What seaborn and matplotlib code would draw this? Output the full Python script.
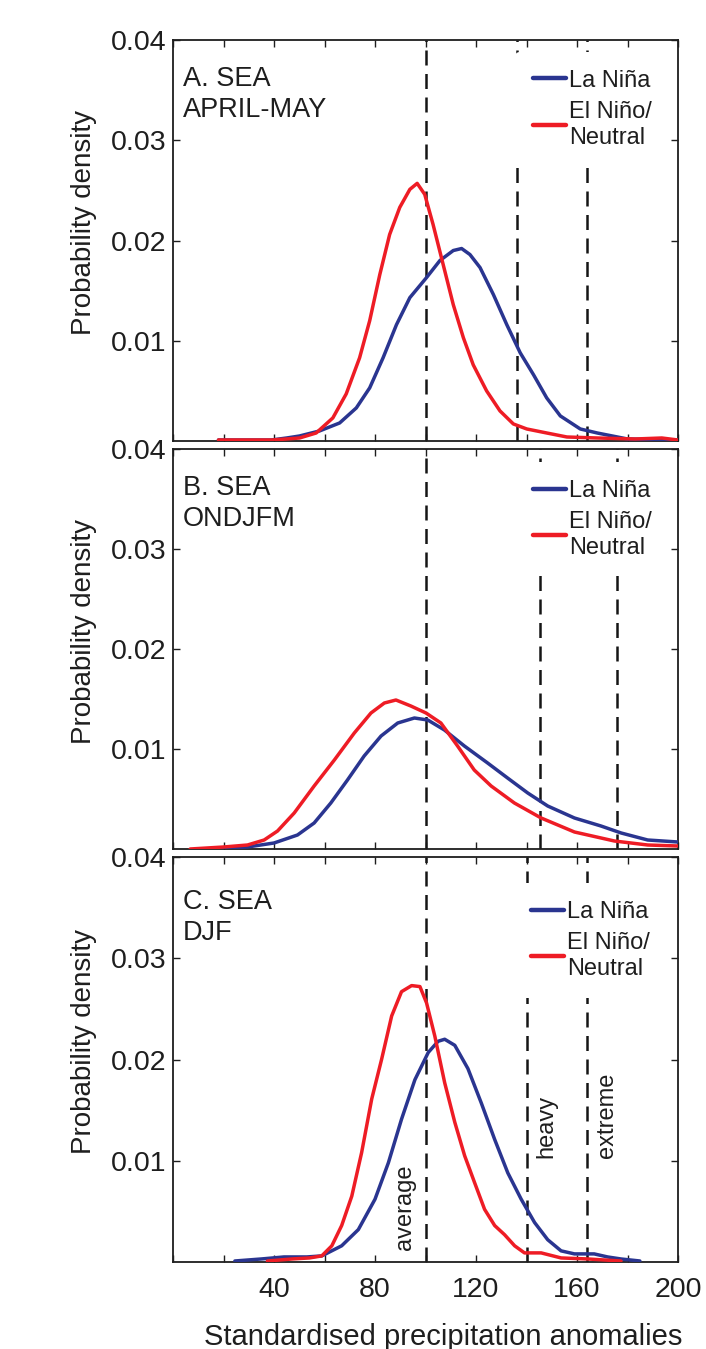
import numpy as np
import pandas as pd
import matplotlib
matplotlib.use("Agg")
import matplotlib.pyplot as plt
import seaborn as sns

sns.set_theme(style="white")
plt.rcParams['font.family'] = ['Liberation Sans', 'DejaVu Sans']

# ---------------- data ----------------
# Panel A: SEA APRIL-MAY
a_nina_x = [18, 39, 45, 50.1, 58, 66, 72.6, 77.9, 83.2, 88.5, 93.8, 100.4, 105.7, 111, 114.3,
            117.6, 121.6, 126.9, 132.2, 137.5, 142.8, 148, 153.4, 161.3, 168, 180, 200]
a_nina_y = [0.0001, 0.0001, 0.0003, 0.0005, 0.0010, 0.0018, 0.0033, 0.0053, 0.0083, 0.0116,
            0.0143, 0.0163, 0.0180, 0.0190, 0.0192, 0.0186, 0.0173, 0.0146, 0.0116, 0.0088,
            0.0066, 0.0043, 0.0025, 0.0012, 0.0008, 0.0002, 0.0001]
a_nino_x = [18, 39, 45, 50.1, 56.7, 63.3, 68.6, 73.9, 77.9, 81.9, 85.8, 89.8, 93.8, 96.7, 99.7,
            103, 107, 111, 115, 118.9, 124.2, 129.5, 134.8, 140.1, 148, 156, 168, 183, 193.6, 200]
a_nino_y = [0.0001, 0.0001, 0.0002, 0.0003, 0.0008, 0.0023, 0.0047, 0.0083, 0.0120, 0.0166,
            0.0206, 0.0233, 0.0251, 0.0257, 0.0246, 0.0216, 0.0176, 0.0136, 0.0103, 0.0076,
            0.0050, 0.0030, 0.0017, 0.0012, 0.0008, 0.0004, 0.0003, 0.0002, 0.0003, 0.0001]

# Panel B: SEA ONDJFM
b_nina_x = [16.3, 29.5, 40, 49.3, 55.9, 62.5, 69.1, 75.7, 82.4, 89, 95.6, 100.9, 107.5, 115.4,
            124.6, 132.5, 140.5, 148.4, 159, 169.5, 177.5, 188, 200]
b_nina_y = [0.0000, 0.0002, 0.0006, 0.0014, 0.0026, 0.0046, 0.0069, 0.0093, 0.0113, 0.0126,
            0.0131, 0.0129, 0.0119, 0.0103, 0.0086, 0.0071, 0.0056, 0.0043, 0.0031, 0.0023,
            0.0016, 0.0009, 0.0007]
b_nino_x = [6.8, 20, 29.5, 36.1, 41.4, 48, 55.9, 63.9, 71.8, 78.4, 83.7, 88.3, 94.2, 100.2,
            106.1, 112.7, 119.3, 126, 135.2, 145.8, 159, 174.8, 188, 200]
b_nino_y = [0.0000, 0.0002, 0.0004, 0.0009, 0.0018, 0.0036, 0.0063, 0.0089, 0.0116, 0.0136,
            0.0146, 0.0149, 0.0143, 0.0136, 0.0126, 0.0103, 0.0079, 0.0063, 0.0046, 0.0031,
            0.0017, 0.0008, 0.0004, 0.0003]

# Panel C: SEA DJF
c_nina_x = [24.5, 35, 44, 53, 58.9, 66.8, 73.4, 80, 85.3, 90.5, 95.8, 101.1, 105, 107.6,
            111.6, 116.8, 122.1, 127.4, 132.6, 137.9, 143.2, 148.4, 153.7, 159, 166.8, 172.1,
            177.4, 184.9]
c_nina_y = [0.0001, 0.0003, 0.0005, 0.0005, 0.0006, 0.0016, 0.0032, 0.0062, 0.0098, 0.0141,
            0.0180, 0.0207, 0.0218, 0.0220, 0.0214, 0.0191, 0.0157, 0.0121, 0.0088, 0.0062,
            0.0039, 0.0022, 0.0011, 0.0008, 0.0008, 0.0005, 0.0003, 0.0001]
c_nino_x = [37.4, 47.2, 54, 58.9, 62.9, 66.8, 70.8, 74.7, 78.7, 82.6, 86.6, 90.5, 94.5, 97.8,
            100.4, 103.7, 107.6, 111.6, 115.5, 119.5, 123.4, 127.4, 131.3, 135.3, 139.2, 145.8,
            153.7, 164.2, 177.4]
c_nino_y = [0.0001, 0.0003, 0.0004, 0.0006, 0.0016, 0.0036, 0.0065, 0.0108, 0.0161, 0.0200,
            0.0243, 0.0267, 0.0273, 0.0272, 0.0256, 0.0223, 0.0177, 0.0138, 0.0105, 0.0078,
            0.0052, 0.0036, 0.0027, 0.0016, 0.0009, 0.0009, 0.0004, 0.0003, 0.0001]

panel_titles = ["A. SEA\nAPRIL-MAY", "B. SEA\nONDJFM", "C. SEA\nDJF"]
thresholds = [[100, 136.2, 164], [100, 145.3, 175.8], [100, 140.2, 163.8]]
series_names = ["La Niña", "El Niño/\nNeutral"]
threshold_labels = ["average", "heavy", "extreme"]
x_tick_vals = [0, 20, 40, 60, 80, 100, 120, 140, 160, 180, 200]
x_tick_labels = ["", "", "40", "", "80", "", "120", "", "160", "", "200"]
y_tick_vals = [0.01, 0.02, 0.03, 0.04]
y_tick_labels = ["0.01", "0.02", "0.03", "0.04"]

panels = [
    (a_nina_x, a_nina_y, a_nino_x, a_nino_y),
    (b_nina_x, b_nina_y, b_nino_x, b_nino_y),
    (c_nina_x, c_nina_y, c_nino_x, c_nino_y),
]

# ---------------- layout ----------------
W, H = 706, 1349
fig = plt.figure(figsize=(W / 100, H / 100), dpi=100)
boxes = [(40, 441), (449, 849), (857, 1262)]  # top, bottom pixels
left_px, right_px = 173, 678

BLUE = "#2A3590"
RED = "#EE1C25"
INK = "#1e1e1e"

title_y = [0.935, 0.935, 0.92]
legend_anchor = [(0.984, 0.97), (0.984, 0.967), (0.98, 0.935)]

for i, ((top, bot), (nx, ny, ex, ey)) in enumerate(zip(boxes, panels)):
    ax = fig.add_axes([left_px / W, 1 - bot / H, (right_px - left_px) / W, (bot - top) / H])
    ax.set_facecolor("white")

    # threshold dashed lines (drawn first, legend covers them)
    for t in thresholds[i]:
        ax.axvline(t, color="#151515", lw=1.8, ls=(0, (6, 3.4)), zorder=1)

    df_n = pd.DataFrame({"x": nx, "y": ny})
    df_e = pd.DataFrame({"x": ex, "y": ey})
    sns.lineplot(data=df_n, x="x", y="y", ax=ax, color=BLUE, lw=2.5,
                 label=series_names[0], zorder=3, sort=False)
    sns.lineplot(data=df_e, x="x", y="y", ax=ax, color=RED, lw=2.5,
                 label=series_names[1], zorder=3, sort=False)
    for ln in ax.get_lines():
        ln.set_solid_joinstyle("round")
        ln.set_solid_capstyle("round")

    ax.set_xlim(0, 200)
    ax.set_ylim(0, 0.04)
    ax.set_xticks(x_tick_vals)
    ax.set_yticks(y_tick_vals)
    ax.set_yticklabels(y_tick_labels)
    if i == 2:
        ax.set_xticklabels(x_tick_labels)
        ax.set_xlabel("Standardised precipitation anomalies", fontsize=21, color=INK)
        ax.xaxis.set_label_coords(0.535, -0.15)
    else:
        ax.set_xticklabels([])
        ax.set_xlabel("")
    ax.set_ylabel("Probability density", fontsize=20, color=INK)
    ax.yaxis.set_label_coords(-0.15, 0.545)

    ax.tick_params(axis="both", direction="in", length=5, width=1, color=INK,
                   labelsize=20.5, top=True, right=True, bottom=True, left=True,
                   labelcolor=INK)
    ax.tick_params(axis="y", pad=5)
    ax.tick_params(axis="x", pad=11)
    for s in ax.spines.values():
        s.set_visible(True)
        s.set_color(INK)
        s.set_linewidth(1.3)

    ax.text(0.02, title_y[i], panel_titles[i], transform=ax.transAxes, va="top", ha="left",
            fontsize=19.5, color=INK, linespacing=1.25, zorder=5)

    leg = ax.legend(loc="upper right", bbox_to_anchor=legend_anchor[i], frameon=True,
                    fontsize=17, handlelength=1.4, handletextpad=0.15, borderpad=0.75,
                    labelspacing=0.4, borderaxespad=0)
    leg.get_frame().set_facecolor("white")
    leg.get_frame().set_edgecolor("none")
    leg.get_frame().set_alpha(1)
    leg.set_zorder(4)
    for line in leg.get_lines():
        line.set_linewidth(3.2)
    for txt in leg.get_texts():
        txt.set_color(INK)

    if i == 2:
        ax.text(91.9, 0.0012, threshold_labels[0], rotation=90, ha="center", va="bottom",
                fontsize=17, color=INK)
        ax.text(147.7, 0.0103, threshold_labels[1], rotation=90, ha="center", va="bottom",
                fontsize=17, color=INK)
        ax.text(171.9, 0.0103, threshold_labels[2], rotation=90, ha="center", va="bottom",
                fontsize=17, color=INK)

fig.savefig("out.png", dpi=100, facecolor="white")
